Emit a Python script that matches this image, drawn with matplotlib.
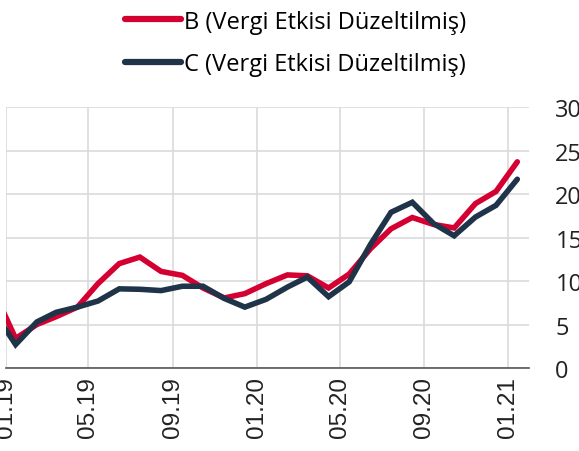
import matplotlib

matplotlib.use("Agg")
import matplotlib.pyplot as plt
import pandas as pd

plt.rcParams["font.family"] = ["Open Sans", "DejaVu Sans"]

# monthly values, Dec 2018 .. Jan 2021 (plotted mid-month)
months = pd.date_range("2018-12-01", periods=26, freq="MS") + pd.Timedelta(days=14)
series_b = [8.7, 3.4, 5.0, 5.9, 7.0, 9.7, 12.0, 12.75, 11.1, 10.65, 9.2, 8.05, 8.55,
            9.7, 10.7, 10.6, 9.2, 10.8, 13.7, 16.0, 17.3, 16.5, 16.1, 18.9, 20.3, 23.7]
series_c = [6.4, 2.7, 5.3, 6.4, 7.0, 7.7, 9.1, 9.05, 8.9, 9.4, 9.4, 8.0, 7.0,
            7.9, 9.3, 10.45, 8.2, 9.9, 14.2, 17.9, 19.05, 16.6, 15.2, 17.35, 18.7, 21.7]
label_b = "B (Vergi Etkisi Düzeltilmiş)"
label_c = "C (Vergi Etkisi Düzeltilmiş)"
tick_dates = pd.date_range("2019-01-01", "2021-01-01", freq="4MS")
tick_labels = [d.strftime("%m.%y") for d in tick_dates]
y_ticks = [0, 5, 10, 15, 20, 25, 30]

RED = "#D50032"
NAVY = "#1F3349"

fig = plt.figure(figsize=(5.79, 4.52), dpi=100)
ax = fig.add_axes([0.0104, 0.1836, 0.9032, 0.5774])

ax.plot(months, series_b, color=RED, lw=4.0, solid_capstyle="round",
        solid_joinstyle="miter", label=label_b, zorder=3)
ax.plot(months, series_c, color=NAVY, lw=4.0, solid_capstyle="round",
        solid_joinstyle="miter", label=label_c, zorder=4)

ax.set_xlim(pd.Timestamp("2019-01-01"), pd.Timestamp("2021-02-01"))
ax.set_ylim(0, 30)
ax.set_xticks(tick_dates)
ax.set_xticklabels(tick_labels, rotation=90, family=["Liberation Sans", "DejaVu Sans"],
                   fontsize=17.5, color="#222222")
ax.set_yticks(y_ticks)
ax.yaxis.tick_right()
ax.tick_params(axis="y", length=0, pad=19, labelsize=17, labelcolor="#222222")
ax.tick_params(axis="x", length=0, pad=6)
for lab in ax.get_yticklabels():
    lab.set_horizontalalignment("left")

ax.grid(True, color="#dadada", lw=1.2)
ax.set_axisbelow(True)
for side in ("top", "left", "right"):
    ax.spines[side].set_visible(False)
ax.spines["bottom"].set_color("#555555")
ax.spines["bottom"].set_linewidth(1.2)

leg = fig.legend(loc="upper center", bbox_to_anchor=(0.51, 1.0), ncol=1, frameon=False,
                 fontsize=17, handlelength=2.4, handletextpad=0.1, labelspacing=0.78,
                 borderaxespad=0.05)
for h in leg.get_lines():
    h.set_linewidth(4.5)
    h.set_solid_capstyle("round")

fig.savefig("out.png", dpi=100)
